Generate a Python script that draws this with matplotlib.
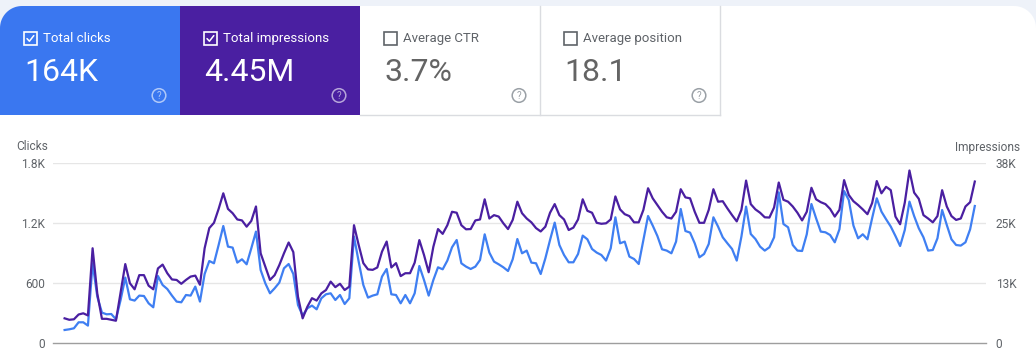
import numpy as np
import matplotlib
matplotlib.use("Agg")
import matplotlib.pyplot as plt
from matplotlib.patches import Rectangle, Polygon, Circle

plt.rcParams['font.family'] = ['Roboto', 'DejaVu Sans']

# ---------------- data ----------------
clicks = [133, 140, 150, 210, 210, 177, 800, 467, 307, 290, 293, 240, 433, 657, 440, 427, 477, 473, 400, 360,
          673, 583, 543, 477, 417, 410, 483, 477, 567, 417, 693, 823, 800, 983, 1173, 967, 957, 807, 840, 790,
          950, 1117, 733, 600, 500, 550, 607, 750, 793, 693, 383, 277, 350, 377, 340, 450, 490, 500, 433, 483,
          393, 450, 1067, 817, 583, 457, 477, 490, 667, 743, 490, 483, 400, 483, 400, 500, 773, 633, 477, 633,
          760, 740, 827, 960, 1033, 800, 767, 743, 767, 833, 1090, 907, 817, 790, 760, 723, 840, 1043, 900, 927,
          807, 800, 693, 850, 1033, 1207, 983, 883, 810, 810, 893, 1077, 1040, 943, 907, 883, 827, 950, 1260, 1000,
          1017, 867, 843, 793, 1033, 1273, 1177, 1073, 940, 927, 900, 1017, 1343, 1123, 1107, 1000, 860, 893, 993, 1260,
          1167, 1060, 1000, 943, 827, 1067, 1367, 1093, 1043, 967, 927, 960, 1060, 1510, 1193, 1160, 983, 927, 923, 1090,
          1393, 1250, 1117, 1110, 1083, 1010, 1140, 1523, 1433, 1177, 1050, 1090, 1040, 1250, 1450, 1317, 1240, 1167, 1073, 973,
          1133, 1417, 1273, 1150, 1060, 927, 933, 1050, 1333, 1183, 1040, 983, 977, 1010, 1140, 1373]

impressions = [5200, 4900, 5000, 6000, 6250, 5800, 19800, 10400, 5100, 5100, 4900, 4700, 10600, 16500, 12500, 11250, 14200, 14200, 12000, 11250,
               15600, 16400, 14600, 13300, 13200, 12400, 13200, 13900, 14100, 12200, 19800, 24000, 25100, 28000, 31250, 28000, 27100, 25800, 25600, 24300,
               25500, 28500, 18750, 16000, 13200, 14200, 16300, 18750, 21000, 19000, 9700, 5200, 7600, 9400, 8900, 10400, 11100, 12850, 11700, 12400,
               11100, 11800, 24600, 20500, 16700, 15400, 15300, 15800, 19100, 21200, 15800, 16700, 14000, 14600, 14600, 16800, 21500, 18400, 14800, 20100,
               23800, 22800, 24600, 27400, 27200, 24600, 23750, 23800, 25600, 25800, 30000, 26000, 26700, 26400, 25000, 23800, 25700, 29500, 27100, 26000,
               25200, 24000, 23300, 24300, 27200, 29000, 26700, 25800, 23600, 24100, 25800, 30000, 27600, 27200, 25100, 24900, 25000, 25800, 30600, 27900,
               26900, 26500, 25200, 25200, 27800, 32300, 30200, 28800, 27400, 26250, 26000, 27400, 32100, 30400, 30200, 27400, 25100, 25100, 27800, 32100,
               29500, 29600, 28100, 26700, 25400, 27800, 33900, 29000, 27900, 27200, 26250, 26200, 28300, 33500, 29900, 29500, 28500, 27200, 25600, 27400,
               32400, 30000, 29400, 29000, 28000, 26400, 27800, 34000, 30900, 29600, 28800, 27900, 26900, 29200, 33800, 31250, 32600, 31900, 26400, 24800,
               29300, 36000, 31400, 30100, 26700, 26000, 25200, 26500, 31900, 28500, 26500, 25700, 26000, 28500, 29400, 33700]

card_titles = ["Total clicks", "Total impressions", "Average CTR", "Average position"]
card_values = ["164K", "4.45M", "3.7%", "18.1"]
card_checked = [True, True, False, False]

clicks_ticks = [0, 600, 1200, 1800]
clicks_ticklabels = ["0", "600", "1.2K", "1.8K"]
impr_ticks = [0, 12500, 25000, 37500]
impr_ticklabels = ["0", "13K", "25K", "38K"]

# ---------------- style ----------------
W, H = 1036, 356
BLUE_CARD = "#3a77f0"
PURPLE_CARD = "#4a1fa1"
BLUE_LINE = "#3f7ff2"
PURPLE_LINE = "#4a1fa1"
GRAY_TEXT = "#5f6368"
GRID = "#e6e6e6"
BORDER = "#dadce0"
TOP_BG = "#eef2f9"

fig = plt.figure(figsize=(W / 100, H / 100), dpi=100)
fig.patch.set_facecolor("white")

bg = fig.add_axes([0, 0, 1, 1])
bg.set_xlim(0, W)
bg.set_ylim(H, 0)
bg.axis("off")


def rounded_poly(x0, y0, x1, y1, r_tl=0, r_tr=0, n=20):
    pts = []
    if r_tl > 0:
        a = np.linspace(np.pi, 1.5 * np.pi, n)
        pts += list(zip(x0 + r_tl + r_tl * np.cos(a), y0 + r_tl + r_tl * np.sin(a)))
    else:
        pts.append((x0, y0))
    if r_tr > 0:
        a = np.linspace(1.5 * np.pi, 2 * np.pi, n)
        pts += list(zip(x1 - r_tr + r_tr * np.cos(a), y0 + r_tr + r_tr * np.sin(a)))
    else:
        pts.append((x1, y0))
    pts.append((x1, y1))
    pts.append((x0, y1))
    return pts


# top light strip and white panel
bg.add_patch(Rectangle((0, 0), W, 40, facecolor=TOP_BG, edgecolor="none", zorder=0))
bg.add_patch(Polygon(rounded_poly(0, 6, W, 60, r_tl=22, r_tr=22), closed=True,
                     facecolor="white", edgecolor="none", zorder=1))

card_x = [0, 180, 360, 540]
card_w = 180
card_top, card_bot = 6, 115
fills = [BLUE_CARD, PURPLE_CARD, "white", "white"]

for i in range(4):
    x0 = card_x[i]
    if i == 0:
        pts = rounded_poly(x0, card_top, x0 + card_w, card_bot, r_tl=22)
    else:
        pts = rounded_poly(x0, card_top, x0 + card_w, card_bot)
    bg.add_patch(Polygon(pts, closed=True, facecolor=fills[i], edgecolor="none", zorder=2))
    colored = i < 2
    tcol = "white" if colored else GRAY_TEXT
    # checkbox
    cx, cy, cs = x0 + 24, 32, 12.5
    bg.add_patch(Rectangle((cx, cy), cs, cs, facecolor="none", edgecolor=tcol, lw=1.2, zorder=3))
    if card_checked[i]:
        bg.plot([cx + 3, cx + 5.4, cx + 9.8], [cy + 6.6, cy + 9.2, cy + 3.6], color=tcol, lw=1.1,
                solid_capstyle="round", zorder=4)
    bg.text(x0 + 43, cy + cs / 2 + 0.3, card_titles[i], color=tcol, fontsize=9.5, ha="left", va="center", zorder=4)
    bg.text(x0 + 24, 72.5, card_values[i], color=tcol if colored else "#646464", fontsize=23,
            ha="left", va="center", zorder=4)
    # help icon
    hcol = (1, 1, 1, 0.6) if colored else "#9aa0a6"
    bg.add_patch(Circle((x0 + 159, 95.5), 6.8, facecolor="none", edgecolor=hcol, lw=1.1, zorder=3))
    bg.text(x0 + 159, 96, "?", color=hcol, fontsize=7, ha="center", va="center", zorder=4)

# borders of white cards
bg.plot([540, 540], [card_top, card_bot], color=BORDER, lw=1, zorder=3)
bg.plot([720, 720], [card_top, card_bot], color=BORDER, lw=1, zorder=3)
bg.plot([360, 720], [card_bot, card_bot], color=BORDER, lw=1, zorder=3)

# ---------------- chart ----------------
ax_left, ax_right = 53.3, 986
ax_top, ax_bot = 163.3, 343.3
ax = fig.add_axes([ax_left / W, (H - ax_bot) / H, (ax_right - ax_left) / W, (ax_bot - ax_top) / H])
ax.patch.set_alpha(0)
x = np.arange(len(clicks))
ax.set_xlim(-2.42, 197.4)
ax.set_ylim(0, 1800)
for t in clicks_ticks[1:]:
    ax.axhline(t, color=GRID, lw=1, zorder=0)
for s in ["top", "right", "left"]:
    ax.spines[s].set_visible(False)
ax.spines["bottom"].set_color("#9e9e9e")
ax.spines["bottom"].set_linewidth(1)
ax.set_xticks([])
ax.set_yticks(clicks_ticks)
ax.set_yticklabels(clicks_ticklabels)
ax.tick_params(axis="y", length=0, pad=6, labelsize=8.6, labelcolor=GRAY_TEXT)
ax.plot(x, clicks, color=BLUE_LINE, lw=1.6, zorder=3, solid_joinstyle="round")

ax2 = ax.twinx()
ax2.set_ylim(0, 37500)
for s in ["top", "right", "left", "bottom"]:
    ax2.spines[s].set_visible(False)
ax2.set_yticks(impr_ticks)
ax2.set_yticklabels(impr_ticklabels)
ax2.tick_params(axis="y", length=0, pad=7, labelsize=8.6, labelcolor=GRAY_TEXT)
ax2.plot(x, impressions, color=PURPLE_LINE, lw=1.6, zorder=4, solid_joinstyle="round")

bg.text(48, 147, "Clicks", color=GRAY_TEXT, fontsize=8.6, ha="right", va="center")
bg.text(1020, 147, "Impressions", color=GRAY_TEXT, fontsize=8.6, ha="right", va="center")

fig.savefig("out.png", dpi=100)
